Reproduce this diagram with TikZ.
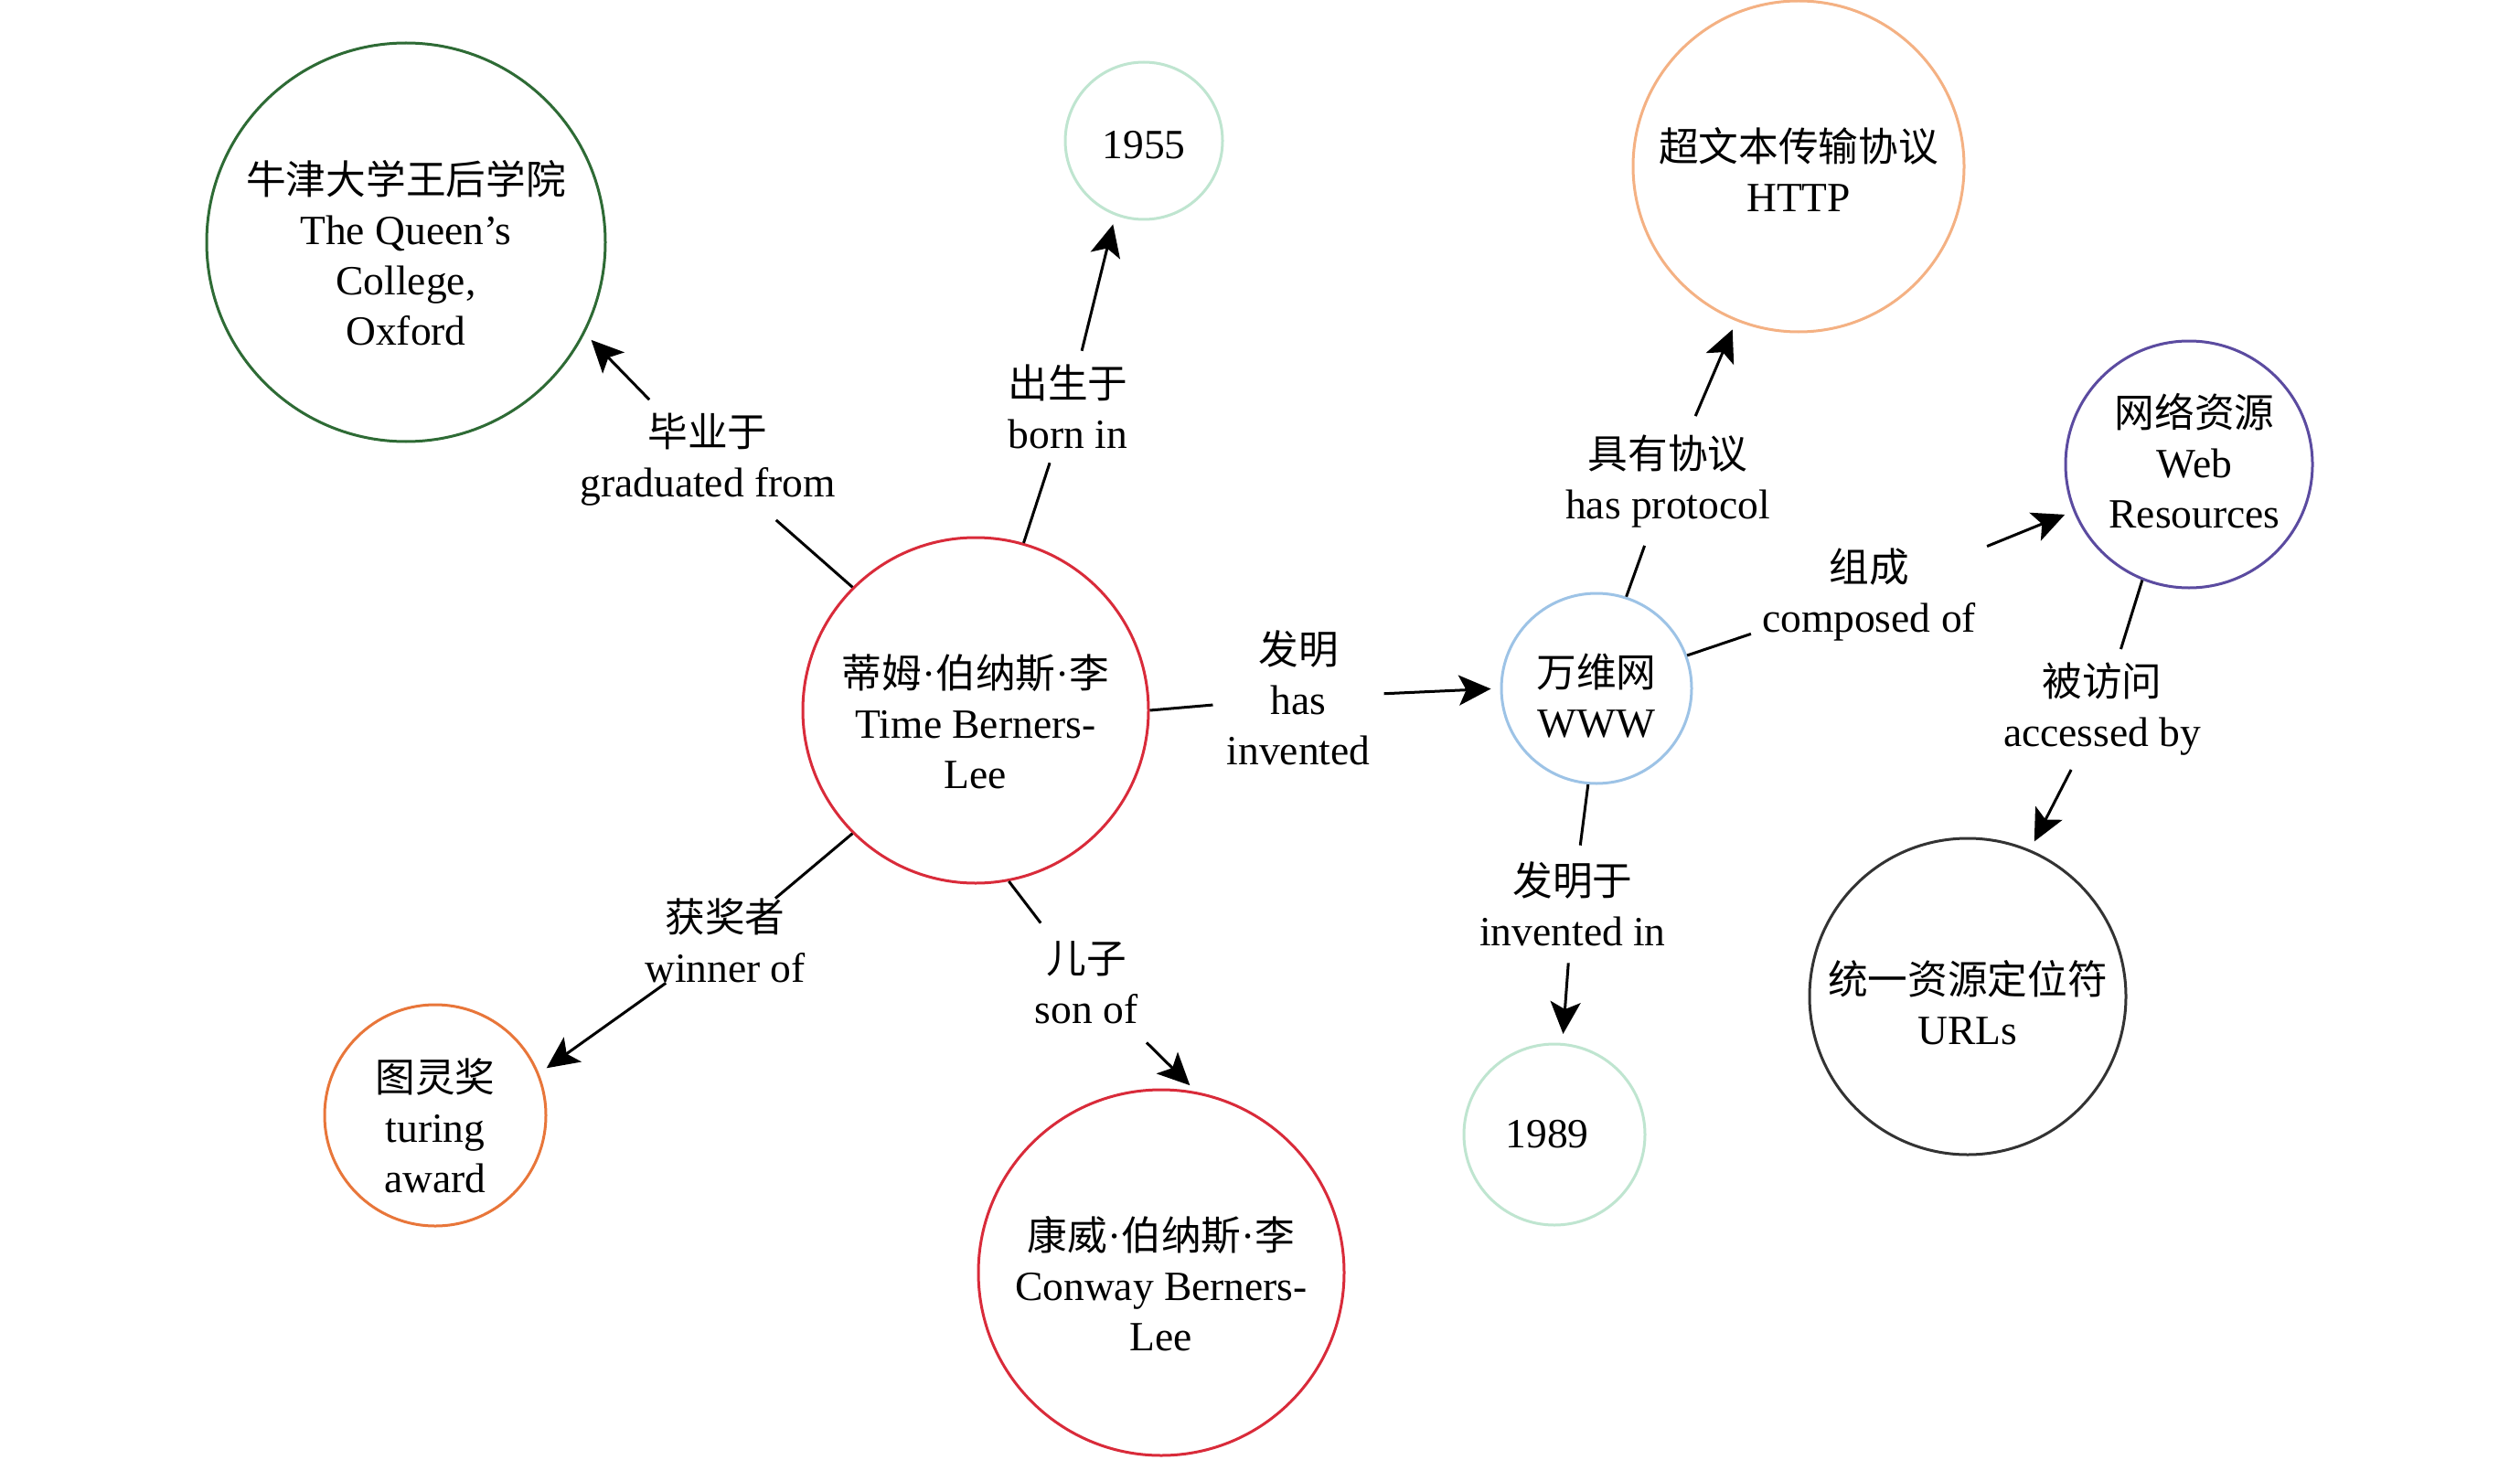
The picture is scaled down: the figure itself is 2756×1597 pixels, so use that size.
\documentclass[tikz,border=0pt]{standalone}
\usepackage{fontspec}
\setmainfont{Liberation Serif}
\newfontfamily\cjk[Scale=0.96]{Noto Sans CJK SC}
\newcommand\mdt{{\rmfamily ·}}
\usetikzlibrary{arrows.meta}
\definecolor{cgreen}{HTML}{2E6B35}
\definecolor{cmint}{HTML}{BFE5D0}
\definecolor{cred}{HTML}{D92B3A}
\definecolor{corange}{HTML}{E8763A}
\definecolor{cblue}{HTML}{9DC3E6}
\definecolor{cpeach}{HTML}{F4B183}
\definecolor{cpurple}{HTML}{5B4BA0}
\definecolor{cdark}{HTML}{333333}
\begin{document}
\begin{tikzpicture}[x=1pt,y=-1pt,
  every node/.style={font=\fontsize{45.5}{55}\selectfont, align=center},
  ent/.style={circle, draw, line width=3pt, inner sep=0pt},
  tl/.style={align=center, inner sep=0pt},
  lab/.style={inner sep=15pt},
  rel/.style={line width=3pt, draw=black},
  arr/.style={rel, -{Stealth[length=35pt,width=33pt,inset=8pt]}, shorten >=10pt}]
\useasboundingbox[fill=white] (0,0) rectangle (2756,1597);

% entities
\node[ent, draw=cgreen, minimum size=436pt,
  label={[tl, yshift=-12pt]center:{{\cjk 牛津大学王后学院}\\The Queen's\\College,\\Oxford}}] (queen) at (444,265) {};
\node[ent, draw=cmint, minimum size=172pt,
  label={[tl, yshift=-5pt]center:{1955}}] (n1955) at (1251,154) {};
\node[ent, draw=cred, minimum size=378pt,
  label={[tl, yshift=-12pt]center:{{\cjk 蒂姆\mdt 伯纳斯\mdt 李}\\Time Berners-\\Lee}}] (tim) at (1067,777) {};
\node[ent, draw=corange, minimum size=242pt,
  label={[tl, yshift=-11pt]center:{{\cjk 图灵奖}\\turing\\award}}] (turing) at (476,1220) {};
\node[ent, draw=cred, minimum size=400pt,
  label={[tl, yshift=-12pt]center:{{\cjk 康威\mdt 伯纳斯\mdt 李}\\Conway Berners-\\Lee}}] (conway) at (1270,1392) {};
\node[ent, draw=cblue, minimum size=208pt,
  label={[tl, yshift=-8pt]center:{{\cjk 万维网}\\WWW}}] (www) at (1746,753) {};
\node[ent, draw=cpeach, minimum size=362pt,
  label={[tl, yshift=-4pt]center:{{\cjk 超文本传输协议}\\HTTP}}] (http) at (1967,182) {};
\node[ent, draw=cpurple, minimum size=270pt,
  label={[tl, yshift=4pt, xshift=6pt]center:{{\cjk 网络资源}\\Web\\Resources}}] (web) at (2394,508) {};
\node[ent, draw=cdark, minimum size=346pt,
  label={[tl, yshift=-7pt]center:{{\cjk 统一资源定位符}\\URLs}}] (urls) at (2152,1090) {};
\node[ent, draw=cmint, minimum size=198pt,
  label={[tl, xshift=-8pt]center:{1989}}] (n1989) at (1700,1241) {};

% relation labels
\node[lab] (lgrad) at (774,503) {{\cjk 毕业于}\\graduated from};
\node[lab] (lborn) at (1168,445) {{\cjk 出生于}\\born in};
\node[lab] (linv) at (1420,763) {{\cjk 发明}\\has\\invented};
\node[lab, inner sep=0pt] (lwin) at (793,1029) {{\cjk 获奖者}\\winner of};
\node[lab, inner sep=20pt] (lson) at (1188,1075) {{\cjk 儿子}\\son of};
\node[lab, inner sep=20pt] (lprot) at (1824,526) {{\cjk 具有协议}\\has protocol};
\node[lab, inner sep=12pt] (lcomp) at (2044,650) {{\cjk 组成}\\composed of};
\node[lab] (lacc) at (2299,776) {{\cjk 被访问}\\accessed by};
\node[lab, inner sep=18pt] (linvin) at (1720,989) {{\cjk 发明于}\\invented in};

% connectors
\draw[rel] (tim.135) -- (lgrad);
\draw[arr] (lgrad) -- (queen.-27);
\draw[rel] (tim.74) -- (lborn);
\draw[arr] (lborn) -- (n1955.-111);
\draw[rel] (tim.0) -- (linv);
\draw[arr] (linv) -- (www.180);
\draw[rel] (tim.-135) -- (lwin);
\draw[arr] (lwin) -- (turing.22);
\draw[rel] (tim.-79) -- (lson);
\draw[arr] (lson) -- (conway.79);
\draw[rel] (www.72) -- (lprot);
\draw[arr] (lprot) -- (http.-112);
\draw[rel] (www.20) -- (lcomp);
\draw[arr] (lcomp) -- (web.-158);
\draw[rel] (web.-112) -- (lacc);
\draw[arr] (lacc) -- (urls.67);
\draw[rel] (www.-95) -- (linvin);
\draw[arr] (linvin) -- (n1989.85);
\end{tikzpicture}
\end{document}
